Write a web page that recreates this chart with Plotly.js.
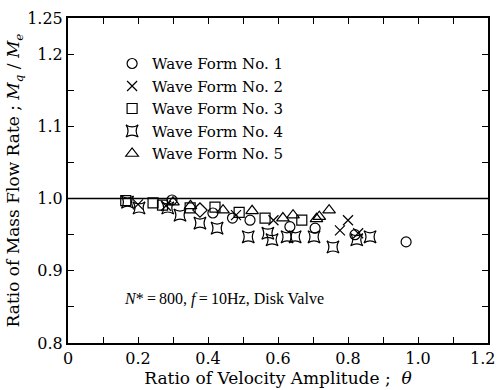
<!DOCTYPE html>
<html>
<head>
<meta charset="utf-8">
<script src="https://cdn.plot.ly/plotly-3.0.1.min.js"></script>
<style>html,body{margin:0;padding:0;background:#fff}#chart{width:498px;height:390px}</style>
</head>
<body>
<div id="chart"></div>
<script>
// Wave Form No. 1 (circle)
var w1x = [0.297, 0.414, 0.470, 0.520, 0.634, 0.706, 0.820, 0.966];
var w1y = [0.998, 0.980, 0.973, 0.970, 0.961, 0.959, 0.950, 0.940];
// Wave Form No. 2 (x)
var w2x = [0.200, 0.280, 0.480, 0.587, 0.777, 0.800, 0.829];
var w2y = [0.992, 0.990, 0.977, 0.970, 0.956, 0.970, 0.952];
// Wave Form No. 3 (square)
var w3x = [0.165, 0.243, 0.270, 0.349, 0.420, 0.489, 0.563, 0.668];
var w3y = [0.997, 0.994, 0.991, 0.987, 0.988, 0.981, 0.973, 0.970];
// extra diamond-shaped point
var w3dx = [0.377];
var w3dy = [0.984];
// Wave Form No. 4 (star-square)
var w4x = [0.170, 0.203, 0.285, 0.320, 0.377, 0.426, 0.515, 0.571, 0.583, 0.626, 0.649, 0.703, 0.757, 0.825, 0.863];
var w4y = [0.995, 0.987, 0.987, 0.977, 0.966, 0.959, 0.947, 0.952, 0.943, 0.947, 0.947, 0.947, 0.933, 0.943, 0.947];
// Wave Form No. 5 (triangle)
var w5x = [0.300, 0.350, 0.443, 0.526, 0.614, 0.643, 0.710, 0.718, 0.746];
var w5y = [0.995, 0.990, 0.984, 0.983, 0.973, 0.977, 0.972, 0.975, 0.984];

var names = ['Wave Form No. 1', 'Wave Form No. 2', 'Wave Form No. 3', 'Wave Form No. 4', 'Wave Form No. 5'];
var yTickVals = [0.8, 0.9, 1.0, 1.1, 1.2, 1.25];
var yTickText = ['0.8', '0.9', '1.0', '1.1', '1.2', '1.25'];
var xTickVals = [0, 0.2, 0.4, 0.6, 0.8, 1.0, 1.2];
var xTickText = ['0', '0.2', '0.4', '0.6', '0.8', '1.0', ''];
var lastXLabel = '1.2';

var FONT = 'DejaVu Serif, serif';
var FONT2 = 'Liberation Serif, serif';
function mk(sym, size) {
  return {symbol: sym, size: size, color: '#000', line: {color: '#000', width: 1.2}};
}
var traces = [
  {x: w1x, y: w1y, name: names[0], mode: 'markers', type: 'scatter', marker: mk('circle-open', 10)},
  {x: w2x, y: w2y, name: names[1], mode: 'markers', type: 'scatter', marker: mk('x-thin-open', 10)},
  {x: w3x, y: w3y, name: names[2], mode: 'markers', type: 'scatter', marker: mk('square-open', 10)},
  {x: w4x, y: w4y, name: names[3], mode: 'markers', type: 'scatter', marker: mk('star-square-open', 11)},
  {x: w5x, y: w5y, name: names[4], mode: 'markers', type: 'scatter', marker: mk('triangle-up-open', 11)},
  {x: w3dx, y: w3dy, name: 'diamond', showlegend: false, mode: 'markers', type: 'scatter', marker: mk('diamond-open', 11)}
];
var layout = {
  width: 498, height: 390,
  margin: {l: 68, r: 10, t: 18, b: 47},
  paper_bgcolor: '#fff', plot_bgcolor: '#fff',
  font: {family: FONT, color: '#000', size: 15},
  showlegend: true,
  legend: {x: 0.105, y: 0.91, xanchor: 'left', yanchor: 'top', bgcolor: 'rgba(0,0,0,0)',
           font: {family: FONT, size: 15}, tracegroupgap: 0, itemwidth: 30},
  xaxis: {range: [0, 1.2], tickvals: xTickVals, ticktext: xTickText, ticks: 'inside', ticklen: 6,
          tickcolor: '#000', showgrid: false, zeroline: false, showline: true, linecolor: '#000', linewidth: 2,
          mirror: 'ticks', tickfont: {size: 16, family: FONT},
          minor: {dtick: 0.1, ticks: 'inside', ticklen: 6, tickcolor: '#000'},
          title: {text: 'Ratio of Velocity Amplitude ;  <i>θ</i>', font: {size: 17, family: FONT}, standoff: 2}},
  yaxis: {range: [0.8, 1.25], tickvals: yTickVals, ticktext: yTickText, ticks: 'inside', ticklen: 6,
          tickcolor: '#000', showgrid: false, zeroline: false, showline: true, linecolor: '#000', linewidth: 2,
          mirror: 'ticks', tickfont: {size: 16, family: FONT}, ticklabeloverflow: 'allow',
          minor: {tickvals: [0.85, 0.95, 1.05, 1.15], ticks: 'inside', ticklen: 6, tickcolor: '#000'},
          title: {text: 'Ratio of Mass Flow Rate ; <i>M<sub>q</sub></i> / <i>M<sub>e</sub></i>', font: {size: 17, family: FONT}, standoff: 3}},
  shapes: [{type: 'line', xref: 'x', yref: 'y', x0: 0, x1: 1.2, y0: 1.0, y1: 1.0, line: {color: '#000', width: 1.5}}],
  annotations: [
    {xref: 'paper', yref: 'paper', x: 0.128, y: 0.135, xanchor: 'left', yanchor: 'middle', showarrow: false,
     text: '<i>N</i>*\u2009=\u2009800, <i>f</i>\u2009=\u200910Hz, Disk Valve', font: {size: 16, family: FONT2}},
    {xref: 'paper', yref: 'paper', x: 1, y: 0, xanchor: 'right', yanchor: 'top', xshift: 9, yshift: -4, showarrow: false,
     text: lastXLabel, font: {size: 16, family: FONT}}
  ]
};
Plotly.newPlot('chart', traces, layout, {displayModeBar: false, staticPlot: true});
</script>
</body>
</html>
